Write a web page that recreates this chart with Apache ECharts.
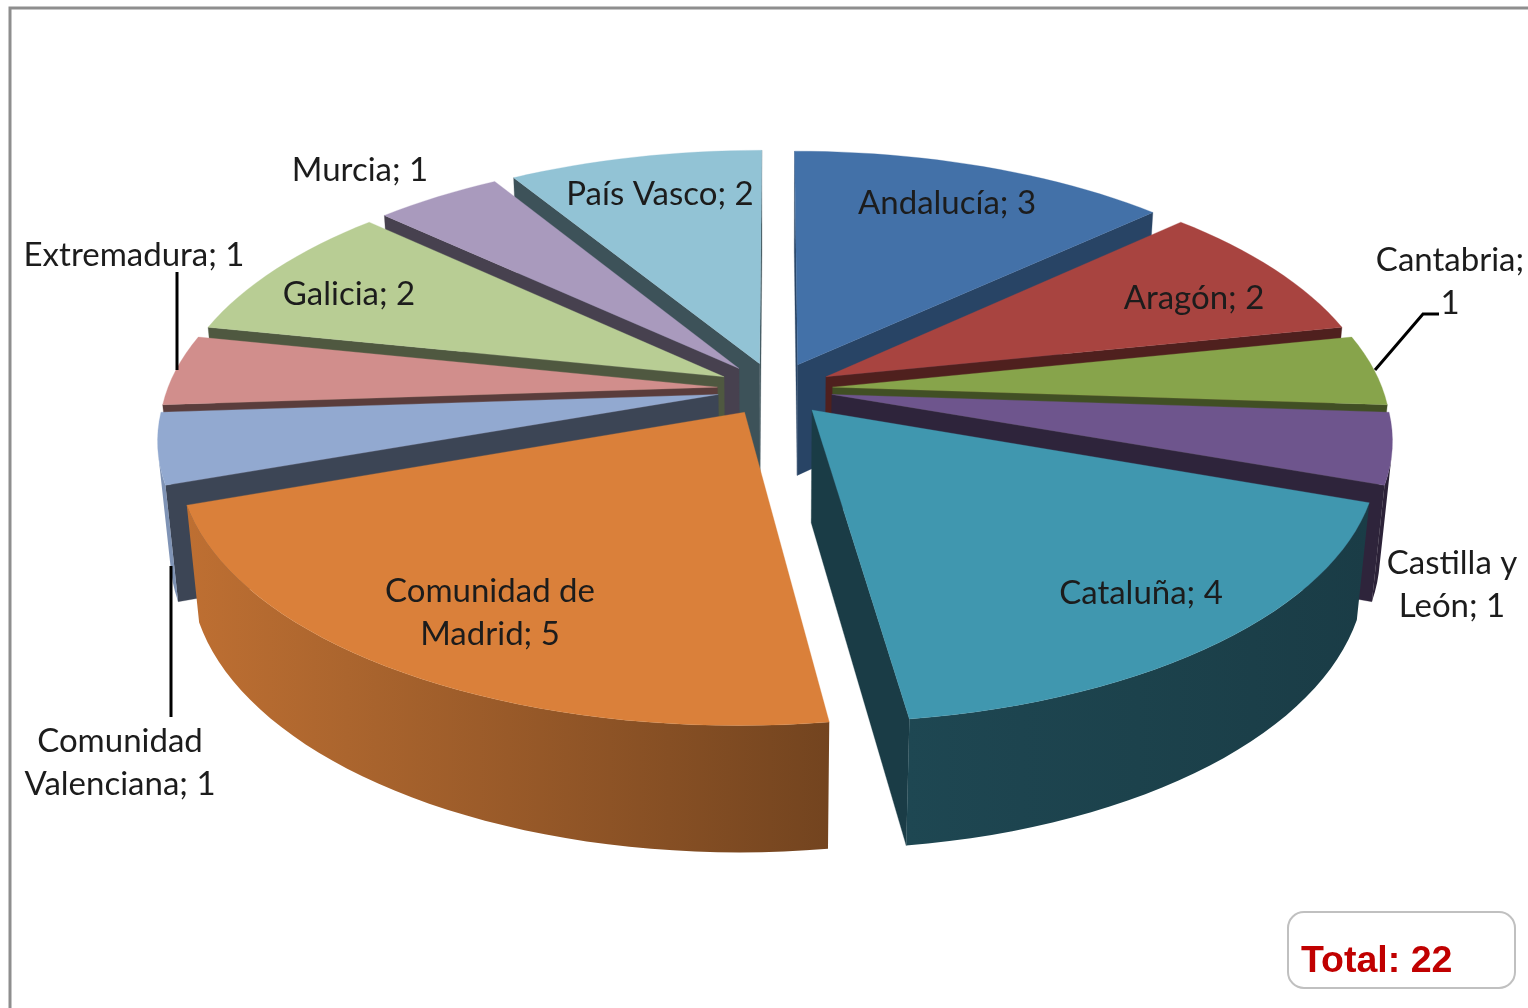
<!DOCTYPE html>
<html><head><meta charset="utf-8">
<style>html,body{margin:0;padding:0;background:#fff}#c{width:1528px;height:1008px}</style>
<script src="https://cdn.jsdelivr.net/npm/echarts@6/dist/echarts.min.js"></script>
</head><body><div id="c"></div>
<script>
// ---- data ----
const names = ['Andalucía','Aragón','Cantabria','Castilla y\nLeón','Cataluña','Comunidad de\nMadrid','Comunidad\nValenciana','Extremadura','Galicia','Murcia','País Vasco'];
const values = [3,2,1,1,4,5,1,1,2,1,2];
const totalText = 'Total: 22';
const separators = ['; ','; ',';\n','; ','; ','; ','; ','; ','; ','; ','; '];
const colors = ['#4371A8','#A84440','#87A44B','#6E558D','#4097AF','#DA803A','#92A9D0','#D18E8C','#B8CD94','#A99ABD','#92C3D5'];
const wallShades = [.6,.47,.48,.42,.4,.4,.41,.43,.43,.42,.42];
// label centres in pixels
const labelPos = [[947,203],[1194,298],[1450,282],[1452,585],[1141,593],[490,613],[120,763],[134,255],[349,294],[360,170],[660,194]];

// ---- projection of the exploded, tilted disc ----
const CX=775, CY=389, RX=550, RY=255, KZ=0.16, KD=0.02, H=114, EXPLODE=0.105;
const total = values.reduce((a,b)=>a+b,0);
const starts=[]; values.reduce((s,v,i)=>{starts[i]=s;return s+v;},0);
const midCos = values.map((v,i)=>Math.cos((starts[i]+v/2)/total*2*Math.PI));
const order = values.map((v,i)=>i).sort((a,b)=>midCos[b]-midCos[a]);
function proj(X,Z,D){const p=1/(1+KZ*Z+KD*D);return [CX+RX*X*p, CY-RY*Z*p+H*D*p];}
function area(pts){let a=0;for(let i=0;i<pts.length;i++){const q=pts[(i+1)%pts.length];a+=pts[i][0]*q[1]-q[0]*pts[i][1];}return a;}
function shade(hex,f){const n=parseInt(hex.slice(1),16);return 'rgb('+[(n>>16)&255,(n>>8)&255,n&255].map(c=>Math.round(c*f)).join(',')+')';}
// rim lighting falls off from left to right across the picture
function rimFactor(x){
  const stops=[[190,.87],[826,.53],[908,.47],[1360,.40]];
  if(x<=stops[0][0]) return stops[0][1];
  for(let i=1;i<stops.length;i++){if(x<=stops[i][0]){const a=stops[i-1],b=stops[i];return a[1]+(b[1]-a[1])*(x-a[0])/(b[0]-a[0]);}}
  return .40;
}
function renderItem(params){
  const i=params.dataIndex, a0=starts[i]/total*2*Math.PI, a1=(starts[i]+values[i])/total*2*Math.PI, m=(a0+a1)/2;
  const ox=EXPLODE*Math.sin(m), oz=EXPLODE*Math.cos(m), rank=order.indexOf(i), base=rank*10+1;
  const seg=Math.max(6,Math.ceil((a1-a0)/(Math.PI/90)));
  const rim=[]; for(let s=0;s<=seg;s++){const t=a0+(a1-a0)*s/seg;rim.push([ox+Math.sin(t),oz+Math.cos(t),t]);}
  const ground=[[ox,oz,null]].concat(rim);
  const top=ground.map(g=>proj(g[0],g[1],0));
  const topArea=area(top);
  const children=[];
  const n=ground.length;
  const visRim=[];
  for(let k=0;k<n;k++){
    const g1=ground[k], g2=ground[(k+1)%n];
    const quad=[proj(g2[0],g2[1],0),proj(g1[0],g1[1],0),proj(g1[0],g1[1],1),proj(g2[0],g2[1],1)];
    if(area(quad)*topArea<=0) continue;
    if(g1[2]!==null&&g2[2]!==null){ if(!visRim.length) visRim.push(g1); visRim.push(g2); continue; }
    const col=shade(colors[i],wallShades[i]);
    children.push({type:'polygon',shape:{points:quad},z2:base,style:{fill:col,stroke:col,lineWidth:.3}});
  }
  if(visRim.length>1){
    const upper=visRim.map(g=>proj(g[0],g[1],0)), lower=visRim.map(g=>proj(g[0],g[1],1)).reverse();
    const pts=upper.concat(lower), xs=pts.map(p=>p[0]), xMin=Math.min(...xs), xMax=Math.max(...xs);
    const stops=[0,.25,.5,.75,1].map(o=>({offset:o,color:shade(colors[i],rimFactor(xMin+(xMax-xMin)*o))}));
    const fill={type:'linear',x:xMin,y:0,x2:xMax,y2:0,global:true,colorStops:stops};
    children.push({type:'polygon',shape:{points:pts},z2:base,style:{fill}});
  }
  children.push({type:'polygon',shape:{points:top},z2:base+1,style:{fill:colors[i],stroke:colors[i],lineWidth:.3}});
  children.push({type:'text',z2:500,x:labelPos[i][0],y:labelPos[i][1],
    style:{text:names[i]+separators[i]+values[i],fontFamily:'Lato',fontSize:33,lineHeight:43,fill:'#1c1c1c',align:'center',verticalAlign:'middle'}});
  return {type:'group',children};
}
const chart=echarts.init(document.getElementById('c'),null,{renderer:'canvas'});
chart.setOption({
  animation:false,backgroundColor:'#fff',
  series:[{type:'custom',coordinateSystem:'none',silent:true,renderItem,data:values.map((v,i)=>[i,v])}],
  graphic:[
    {type:'polyline',z:0,shape:{points:[[10,1010],[10,8],[1530,8]]},style:{fill:null,stroke:'#8e8e8e',lineWidth:3}},
    {type:'polyline',z:20,shape:{points:[[177,272],[177,370]]},style:{fill:null,stroke:'#000',lineWidth:3}},
    {type:'polyline',z:20,shape:{points:[[1439,314],[1423,314],[1375,370]]},style:{fill:null,stroke:'#000',lineWidth:3}},
    {type:'polyline',z:20,shape:{points:[[171,566],[171,717]]},style:{fill:null,stroke:'#000',lineWidth:3}},
    {type:'rect',z:20,shape:{x:1288,y:912,width:227,height:76,r:16},style:{fill:'#fff',stroke:'#c0c0c0',lineWidth:2}},
    {type:'text',z:21,x:1301,y:962,style:{text:totalText,fontFamily:'Liberation Sans',fontWeight:'bold',fontSize:37.5,fill:'#C00000',verticalAlign:'middle'}}
  ]
});
</script></body></html>
